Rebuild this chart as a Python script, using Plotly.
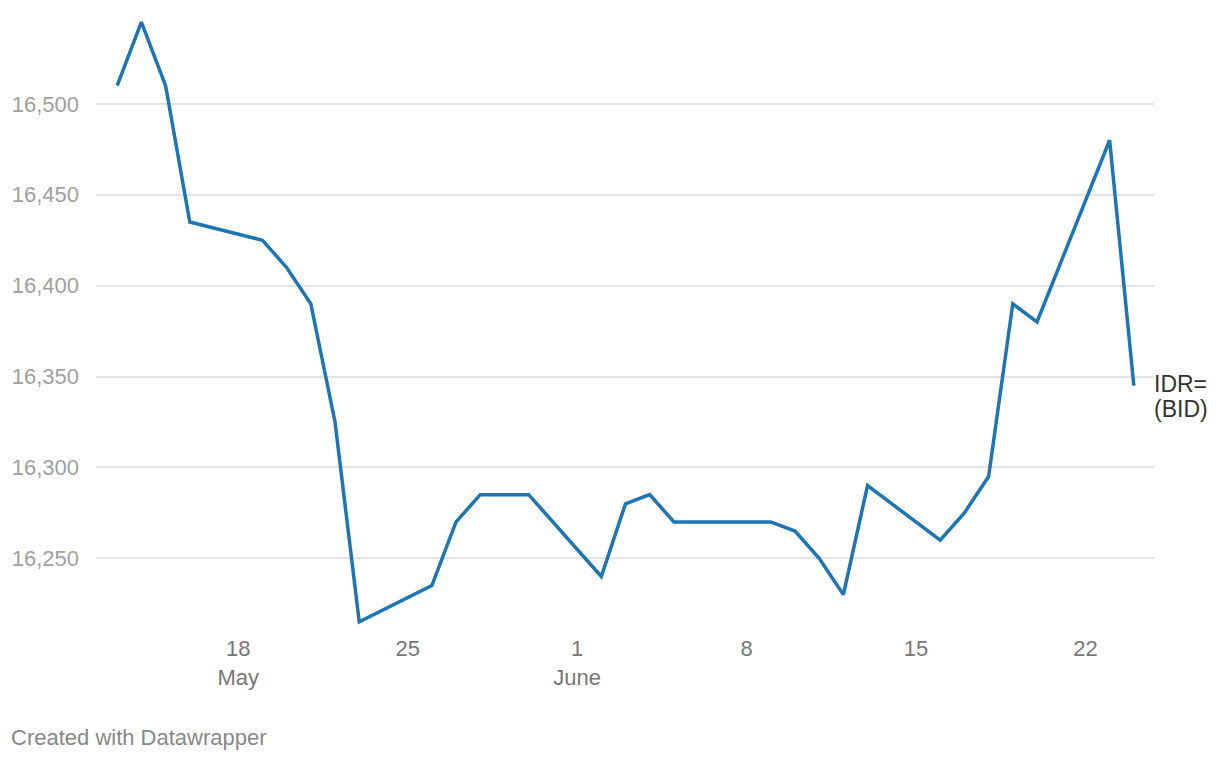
import plotly.graph_objects as go

dates = ["2025-05-13", "2025-05-14", "2025-05-15", "2025-05-16", "2025-05-19",
         "2025-05-20", "2025-05-21", "2025-05-22", "2025-05-23", "2025-05-26",
         "2025-05-27", "2025-05-28", "2025-05-30", "2025-06-02", "2025-06-03",
         "2025-06-04", "2025-06-05", "2025-06-09", "2025-06-10", "2025-06-11",
         "2025-06-12", "2025-06-13", "2025-06-16", "2025-06-17", "2025-06-18",
         "2025-06-19", "2025-06-20", "2025-06-23", "2025-06-24"]
idr_bid = [16510, 16545, 16510, 16435, 16425,
           16410, 16390, 16325, 16215, 16235,
           16270, 16285, 16285, 16240, 16280,
           16285, 16270, 16270, 16265, 16250,
           16230, 16290, 16260, 16275, 16295,
           16390, 16380, 16480, 16345]

series_label_lines = ["IDR=", "(BID)"]
x_tick_vals = ["2025-05-18", "2025-05-25", "2025-06-01", "2025-06-08", "2025-06-15", "2025-06-22"]
x_tick_text = ["18<br>May", "25", "1<br>June", "8", "15", "22"]
y_tick_vals = [16250, 16300, 16350, 16400, 16450, 16500]
y_tick_text = ["16,250", "16,300", "16,350", "16,400", "16,450", "16,500"]

FONT = "'Liberation Sans', Arial, Helvetica, sans-serif"

fig = go.Figure()
fig.add_trace(go.Scatter(
    x=dates, y=idr_bid, mode="lines",
    line=dict(color="#1d75b3", width=3.5),
    hoverinfo="x+y", showlegend=False,
))

for i, line_txt in enumerate(series_label_lines):
    fig.add_annotation(
        x=dates[-1], y=idr_bid[-1], text=line_txt,
        xanchor="left", yanchor="middle", xshift=18, yshift=2 - 25 * i,
        showarrow=False, align="left",
        font=dict(family=FONT, size=23, color="#333333"),
    )

fig.add_annotation(
    xref="paper", yref="paper", x=-87/1058, y=-106/618,
    text="Created with Datawrapper", xanchor="left", yanchor="middle",
    showarrow=False, font=dict(family=FONT, size=22, color="#888888"),
)

fig.update_layout(
    width=1220, height=760,
    margin=dict(l=88, r=74, t=5, b=137),
    paper_bgcolor="white", plot_bgcolor="white",
    xaxis=dict(
        type="date",
        range=["2025-05-12 03:00", "2025-06-24 20:00"],
        tickvals=x_tick_vals, ticktext=x_tick_text,
        showgrid=False, zeroline=False, showline=False, ticks="",
        ticklabelstandoff=2,
        tickfont=dict(family=FONT, size=22, color="#777777"),
    ),
    yaxis=dict(
        range=[16210, 16550],
        tickvals=y_tick_vals, ticktext=y_tick_text,
        showgrid=True, gridcolor="#e3e3e3", gridwidth=1.5,
        zeroline=False, showline=False, ticks="",
        ticklabelstandoff=16,
        tickfont=dict(family=FONT, size=22, color="#a0a0a0"),
    ),
)

fig.write_html("out.html")
